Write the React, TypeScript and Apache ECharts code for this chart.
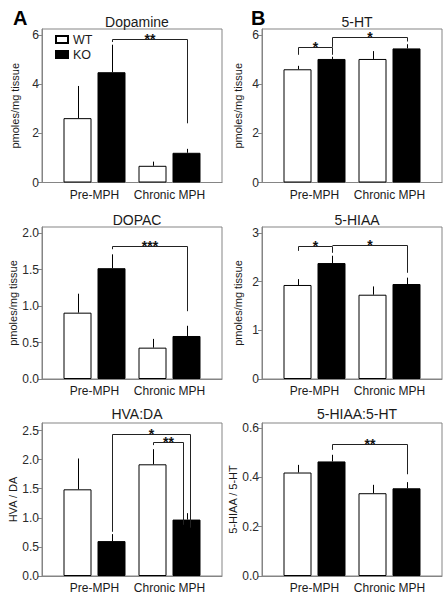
import React, { useEffect, useRef } from 'react';
import * as echarts from 'echarts';

// ---------- data ----------
const GROUPS = ['Pre-MPH', 'Chronic MPH'];
const GROUP_X = [0.7, 1.7];
const SERIES_NAMES = ['WT', 'KO'];

// Dopamine (pmoles/mg tissue)
const dopamineWT = [2.62, 0.68];
const dopamineWTSem = [1.31, 0.17];
const dopamineKO = [4.49, 1.21];
const dopamineKOSem = [1.12, 0.16];
const dopamineTicks = ['0', '2', '4', '6'];

// 5-HT
const htWT = [4.61, 5.03];
const htWTSem = [0.14, 0.32];
const htKO = [5.03, 5.46];
const htKOSem = [0.09, 0.17];
const htTicks = ['0', '2', '4', '6'];

// DOPAC
const dopacWT = [0.91, 0.43];
const dopacWTSem = [0.26, 0.12];
const dopacKO = [1.52, 0.59];
const dopacKOSem = [0.19, 0.14];
const dopacTicks = ['0.0', '0.5', '1.0', '1.5', '2.0'];

// 5-HIAA
const hiaaWT = [1.93, 1.73];
const hiaaWTSem = [0.12, 0.17];
const hiaaKO = [2.38, 1.95];
const hiaaKOSem = [0.15, 0.13];
const hiaaTicks = ['0', '1', '2', '3'];

// HVA:DA
const hvaWT = [1.49, 1.92];
const hvaWTSem = [0.53, 0.26];
const hvaKO = [0.6, 0.97];
const hvaKOSem = [0.12, 0.11];
const hvaTicks = ['0.0', '0.5', '1.0', '1.5', '2.0', '2.5'];

// 5-HIAA:5-HT
const ratioWT = [0.42, 0.336];
const ratioWTSem = [0.031, 0.034];
const ratioKO = [0.465, 0.356];
const ratioKOSem = [0.027, 0.025];
const ratioTicks = ['0.0', '0.2', '0.4', '0.6'];

// significance brackets: from/to = [group index, 0 WT | 1 KO]
const dopamineSig = [{ from: [0, 1], to: [1, 1], top: 5.84, legFrom: 5.72, legTo: 2.41, label: '**' }];
const htSig = [
  { from: [0, 0], to: [0, 1], top: 5.52, legFrom: 5.2, legTo: 5.2, label: '*' },
  { from: [0, 1], to: [1, 1], top: 5.92, legFrom: 5.52, legTo: 5.74, label: '*' },
];
const dopacSig = [{ from: [0, 1], to: [1, 1], top: 1.82, legFrom: 1.78, legTo: 0.93, label: '***' }];
const hiaaSig = [
  { from: [0, 0], to: [0, 1], top: 2.74, legFrom: 2.63, legTo: 2.59, label: '*' },
  { from: [0, 1], to: [1, 1], top: 2.75, legFrom: 2.74, legTo: 2.18, label: '*' },
];
const hvaSig = [
  { from: [0, 1], to: [1, 1], top: 2.44, legFrom: 0.76, legTo: 0.83, label: '*', nudgeTo: 3 },
  { from: [1, 0], to: [1, 1], top: 2.31, legFrom: 2.25, legTo: 0.88, label: '**', nudgeTo: -4 },
];
const ratioSig = [{ from: [0, 1], to: [1, 1], top: 0.535, legFrom: 0.512, legTo: 0.413, label: '**' }];

const panels = [
  { title: 'Dopamine', yName: 'pmoles/mg tissue', yMax: 6.25, ticks: dopamineTicks, wt: dopamineWT, wtSem: dopamineWTSem, ko: dopamineKO, koSem: dopamineKOSem, sig: dopamineSig },
  { title: '5-HT', yName: 'pmoles/mg tissue', yMax: 6.25, ticks: htTicks, wt: htWT, wtSem: htWTSem, ko: htKO, koSem: htKOSem, sig: htSig },
  { title: 'DOPAC', yName: 'pmoles/mg tissue', yMax: 2.085, ticks: dopacTicks, wt: dopacWT, wtSem: dopacWTSem, ko: dopacKO, koSem: dopacKOSem, sig: dopacSig },
  { title: '5-HIAA', yName: 'pmoles/mg tissue', yMax: 3.12, ticks: hiaaTicks, wt: hiaaWT, wtSem: hiaaWTSem, ko: hiaaKO, koSem: hiaaKOSem, sig: hiaaSig },
  { title: 'HVA:DA', yName: 'HVA / DA', yMax: 2.63, ticks: hvaTicks, wt: hvaWT, wtSem: hvaWTSem, ko: hvaKO, koSem: hvaKOSem, sig: hvaSig },
  { title: '5-HIAA:5-HT', yName: '5-HIAA / 5-HT', yMax: 0.621, ticks: ratioTicks, wt: ratioWT, wtSem: ratioWTSem, ko: ratioKO, koSem: ratioKOSem, sig: ratioSig },
];

// ---------- layout / style ----------
const FONT = '"Liberation Sans", Arial, Helvetica, sans-serif';
const COL_LEFT = [42, 262];
const GRID_W = 180;
const ROW_TOP = [29, 227, 423];
const ROW_H = [153.5, 152, 153];
const NAME_GAP = [22, 19];
const BAR_W = 28;
const BAR_GAP_PX = 6;
const BAR_OFF = (BAR_W + BAR_GAP_PX) / 2;
const FRAME = '#858585';
const TEXT = '#1a1a1a';

function buildOption() {
  const grid: any[] = [];
  const xAxis: any[] = [];
  const yAxis: any[] = [];
  const series: any[] = [];
  const title: any[] = [
    { text: 'A', left: 8, top: 3, textStyle: { fontSize: 20, fontWeight: 'bold', color: '#000', fontFamily: FONT } },
    { text: 'B', left: 246, top: 3, textStyle: { fontSize: 20, fontWeight: 'bold', color: '#000', fontFamily: FONT } },
  ];

  panels.forEach((p, i) => {
    const col = i % 2;
    const row = Math.floor(i / 2);
    const left = COL_LEFT[col];
    const top = ROW_TOP[row];
    grid.push({
      left, top, width: GRID_W, height: ROW_H[row],
      show: true, borderColor: FRAME, borderWidth: 1, backgroundColor: 'transparent',
    });
    title.push({
      text: p.title, left: left + GRID_W / 2, top: top - (row === 2 ? 21 : 19), textAlign: 'center',
      textStyle: { fontSize: 14, fontWeight: 'normal', color: TEXT, fontFamily: FONT },
    });
    const tickVals = p.ticks.map((t) => parseFloat(t));
    xAxis.push({
      type: 'value', gridIndex: i, min: 0, max: 2.4,
      splitLine: { show: false },
      axisTick: { show: false },
      axisLine: { show: true, lineStyle: { color: FRAME, width: 1 } },
      axisLabel: {
        customValues: GROUP_X,
        formatter: (v: number) => (v < 1.2 ? GROUPS[0] : GROUPS[1]),
        fontSize: 12, color: TEXT, fontFamily: FONT, margin: 6,
      },
    });
    yAxis.push({
      type: 'value', gridIndex: i, min: 0, max: p.yMax,
      name: p.yName, nameLocation: 'middle', nameGap: NAME_GAP[col],
      nameTextStyle: { fontSize: 11, color: TEXT, fontFamily: FONT },
      splitLine: { show: false },
      axisLine: { show: true, lineStyle: { color: FRAME, width: 1 } },
      axisTick: { show: true, customValues: tickVals, length: 4, lineStyle: { color: FRAME } },
      axisLabel: {
        customValues: tickVals,
        formatter: (v: number) => {
          const k = tickVals.findIndex((t) => Math.abs(t - v) < 1e-9);
          return k >= 0 ? p.ticks[k] : '';
        },
        fontSize: 12, color: '#2a2a2a', fontFamily: FONT, margin: 3,
      },
    });
    const groups = [p.wt, p.ko];
    const sems = [p.wtSem, p.koSem];
    groups.forEach((vals, s) => {
      series.push({
        name: SERIES_NAMES[s], type: 'bar', xAxisIndex: i, yAxisIndex: i,
        barWidth: BAR_W, barGap: (BAR_GAP_PX / BAR_W) * 100 + '%',
        data: GROUP_X.map((x, j) => [x, vals[j]]),
        itemStyle: s === 0
          ? { color: '#ffffff', borderColor: '#000', borderWidth: 1 }
          : { color: '#000000', borderColor: '#000', borderWidth: 1 },
        silent: true,
      });
    });
    // error bars (upper only)
    const errData: number[][] = [];
    groups.forEach((vals, s) => {
      GROUP_X.forEach((x, j) => errData.push([x, vals[j], vals[j] + sems[s][j], s === 0 ? -1 : 1]));
    });
    series.push({
      type: 'custom', xAxisIndex: i, yAxisIndex: i, silent: true, z: 5,
      encode: { x: 0, y: [1, 2] },
      data: errData,
      renderItem: (_params: any, api: any) => {
        const x = api.value(0);
        const side = api.value(3);
        const p0 = api.coord([x, api.value(1)]);
        const p1 = api.coord([x, api.value(2)]);
        const px = Math.round(p0[0] + side * BAR_OFF) + 0.5;
        return {
          type: 'line',
          shape: { x1: px, y1: p0[1], x2: px, y2: p1[1] },
          style: { stroke: '#000', lineWidth: 1 },
        };
      },
    });
    // significance brackets
    const sig = p.sig as any[];
    series.push({
      type: 'custom', xAxisIndex: i, yAxisIndex: i, silent: true, z: 6,
      encode: { x: 0, y: 1 },
      data: sig.map((b) => [GROUP_X[b.from[0]], b.top]),
      renderItem: (params: any, api: any) => {
        const b = sig[params.dataIndex];
        const a = api.coord([GROUP_X[b.from[0]], b.top]);
        const c = api.coord([GROUP_X[b.to[0]], b.top]);
        const xa = Math.round(a[0] + (b.from[1] === 0 ? -BAR_OFF : BAR_OFF) + (b.nudgeFrom || 0)) + 0.5;
        const xc = Math.round(c[0] + (b.to[1] === 0 ? -BAR_OFF : BAR_OFF) + (b.nudgeTo || 0)) + 0.5;
        const yt = Math.round(a[1]) + 0.5;
        const y1 = api.coord([GROUP_X[b.from[0]], b.legFrom])[1];
        const y2 = api.coord([GROUP_X[b.to[0]], b.legTo])[1];
        return {
          type: 'group',
          children: [
            {
              type: 'polyline',
              shape: { points: [[xa, y1], [xa, yt], [xc, yt], [xc, y2]] },
              style: { stroke: '#222', fill: null, lineWidth: 1 },
            },
            {
              type: 'text',
              style: {
                text: b.label, x: (xa + xc) / 2, y: yt - 1,
                align: 'center', verticalAlign: 'middle',
                fontSize: 14, fontWeight: 'bold', fontFamily: FONT, fill: '#111',
              },
            },
          ],
        };
      },
    });
  });

  return {
    animation: false,
    backgroundColor: '#ffffff',
    title,
    legend: {
      data: SERIES_NAMES,
      orient: 'vertical', left: 55, top: 33, itemWidth: 12, itemHeight: 7, itemGap: 2,
      selectedMode: false, icon: 'rect', padding: 0,
      textStyle: { fontSize: 12.5, lineHeight: 13, color: TEXT, fontFamily: FONT, padding: [0, 0, 0, 0] },
    },
    grid, xAxis, yAxis, series,
  };
}

export default function App() {
  const ref = useRef<HTMLDivElement>(null);
  useEffect(() => {
    if (!ref.current) return;
    const chart = echarts.init(ref.current, undefined, { renderer: 'svg' });
    chart.setOption(buildOption() as any);
    return () => chart.dispose();
  }, []);
  return (
    <div
      ref={ref}
      style={{ position: 'fixed', left: 0, top: 0, width: 446, height: 602, background: '#fff' }}
    />
  );
}
